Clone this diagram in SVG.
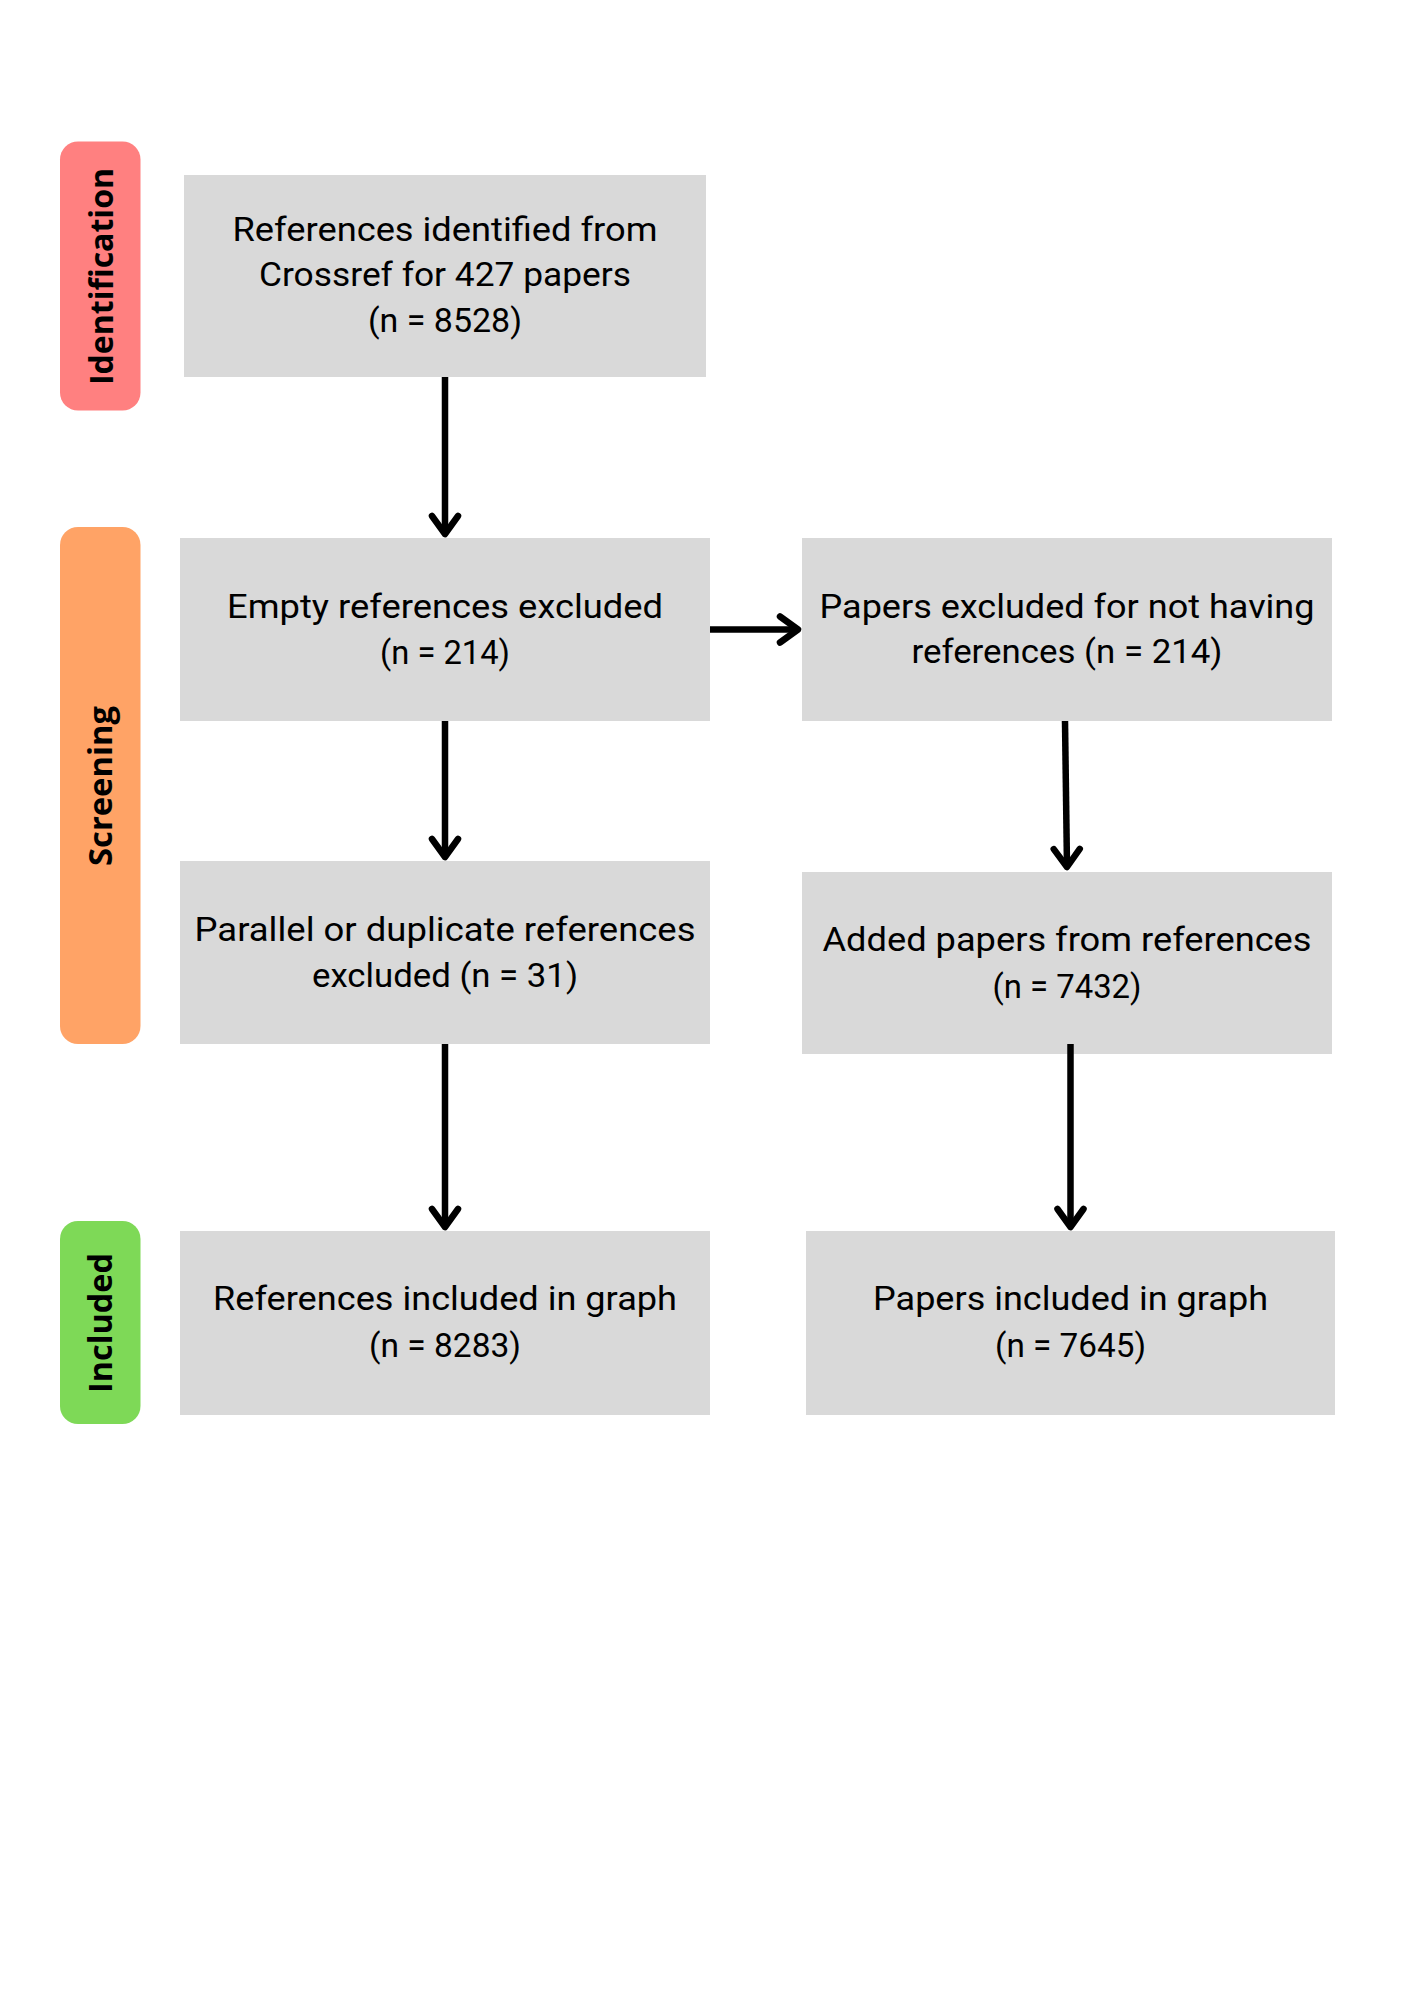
<svg xmlns="http://www.w3.org/2000/svg" width="1414" height="2000" viewBox="0 0 1414 2000">
<style>
.box{fill:#D9D9D9;}
.t{font-family:Roboto,"Liberation Sans",sans-serif;font-size:33px;fill:#000;text-anchor:middle;}
.lab{font-family:"Open Sans","Liberation Sans",sans-serif;font-weight:bold;font-size:32px;fill:#000;text-anchor:middle;}
.con{stroke:#000;stroke-width:6.5;fill:none;stroke-linecap:butt;}
</style>
<defs>
<marker id="arr" markerUnits="userSpaceOnUse" viewBox="-25 -20 32 40" refX="0" refY="0" markerWidth="32" markerHeight="40" orient="auto" overflow="visible">
<path d="M -18 -13 L 0 0 L -18 13" fill="none" stroke="#000" stroke-width="6.5" stroke-linecap="round" stroke-linejoin="round"/>
</marker>
</defs>
<rect width="1414" height="2000" fill="#FFFFFF"/>
<g id="stage-identification">
<rect x="60" y="141.5" width="80.5" height="269" rx="18" fill="#FF8080"/>
<text class="lab" transform="translate(112.5,276.5) rotate(-90)" textLength="217" lengthAdjust="spacingAndGlyphs">Identification</text>
</g>
<g id="stage-screening">
<rect x="60" y="527" width="80.5" height="517" rx="18" fill="#FFA366"/>
<text class="lab" transform="translate(112,786) rotate(-90)" textLength="160" lengthAdjust="spacingAndGlyphs">Screening</text>
</g>
<g id="stage-included">
<rect x="60" y="1221" width="80.5" height="203" rx="18" fill="#7ED957"/>
<text class="lab" transform="translate(112,1323) rotate(-90)" textLength="140" lengthAdjust="spacingAndGlyphs">Included</text>
</g>
<g id="n1">
<rect class="box" x="184" y="175" width="522" height="202"/>
<text class="t" x="445" y="240.5" textLength="425" lengthAdjust="spacingAndGlyphs">References identified from</text>
<text class="t" x="445" y="286" textLength="372" lengthAdjust="spacingAndGlyphs">Crossref for 427 papers</text>
<text class="t" x="445" y="332" textLength="154" lengthAdjust="spacingAndGlyphs">(n = 8528)</text>
</g>
<g id="n2">
<rect class="box" x="180" y="538" width="530" height="183"/>
<text class="t" x="445" y="618" textLength="436" lengthAdjust="spacingAndGlyphs">Empty references excluded</text>
<text class="t" x="445" y="664" textLength="130" lengthAdjust="spacingAndGlyphs">(n = 214)</text>
</g>
<g id="n3">
<rect class="box" x="180" y="861" width="530" height="183"/>
<text class="t" x="445" y="941" textLength="501" lengthAdjust="spacingAndGlyphs">Parallel or duplicate references</text>
<text class="t" x="445" y="987" textLength="266" lengthAdjust="spacingAndGlyphs">excluded (n = 31)</text>
</g>
<g id="n4">
<rect class="box" x="802" y="538" width="530" height="183"/>
<text class="t" x="1067" y="618" textLength="495" lengthAdjust="spacingAndGlyphs">Papers excluded for not having</text>
<text class="t" x="1067" y="663" textLength="311" lengthAdjust="spacingAndGlyphs">references (n = 214)</text>
</g>
<g id="n5">
<rect class="box" x="802" y="872" width="530" height="182"/>
<text class="t" x="1067" y="951" textLength="489" lengthAdjust="spacingAndGlyphs">Added papers from references</text>
<text class="t" x="1067" y="998" textLength="149" lengthAdjust="spacingAndGlyphs">(n = 7432)</text>
</g>
<g id="n6">
<rect class="box" x="180" y="1231" width="530" height="184"/>
<text class="t" x="445" y="1310" textLength="464" lengthAdjust="spacingAndGlyphs">References included in graph</text>
<text class="t" x="445" y="1357" textLength="152" lengthAdjust="spacingAndGlyphs">(n = 8283)</text>
</g>
<g id="n7">
<rect class="box" x="806" y="1231" width="529" height="184"/>
<text class="t" x="1070.5" y="1310" textLength="395" lengthAdjust="spacingAndGlyphs">Papers included in graph</text>
<text class="t" x="1070.5" y="1357" textLength="151" lengthAdjust="spacingAndGlyphs">(n = 7645)</text>
</g>
<g id="connectors">
<line class="con" x1="445" y1="377" x2="445" y2="534" marker-end="url(#arr)"/>
<line class="con" x1="445" y1="721" x2="445" y2="857" marker-end="url(#arr)"/>
<line class="con" x1="445" y1="1044" x2="445" y2="1227" marker-end="url(#arr)"/>
<line class="con" x1="710" y1="629.5" x2="798" y2="629.5" marker-end="url(#arr)"/>
<line class="con" x1="1065" y1="721" x2="1067" y2="867" marker-end="url(#arr)"/>
<line class="con" x1="1070.5" y1="1044" x2="1070.5" y2="1227" marker-end="url(#arr)"/>
</g>
</svg>
